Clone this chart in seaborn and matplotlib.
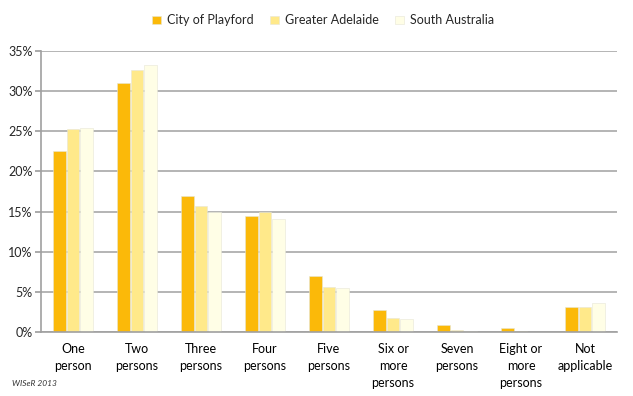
import matplotlib
matplotlib.use("Agg")
import matplotlib.pyplot as plt
import seaborn as sns
import pandas as pd
import numpy as np
from matplotlib.ticker import FuncFormatter, FixedLocator

categories = ["One\nperson", "Two\npersons", "Three\npersons", "Four\npersons", "Five\npersons",
              "Six or\nmore\npersons", "Seven\npersons", "Eight or\nmore\npersons", "Not\napplicable"]
series = ["City of Playford", "Greater Adelaide", "South Australia"]
playford = [22.5, 31.0, 16.9, 14.4, 7.0, 2.8, 0.85, 0.5, 3.1]
greater_adelaide = [25.3, 32.6, 15.7, 14.9, 5.6, 1.7, 0.3, 0.1, 3.1]
south_australia = [25.4, 33.2, 14.9, 14.1, 5.5, 1.6, 0.15, 0.05, 3.6]
colors = ["#FBB909", "#FFE98A", "#FFFEE6"]

rows = []
for s, vals in zip(series, [playford, greater_adelaide, south_australia]):
    for c, v in zip(categories, vals):
        rows.append({"cat": c, "series": s, "val": v})
df = pd.DataFrame(rows)

sns.set_theme(style="white")
plt.rcParams["font.family"] = ["Lato", "DejaVu Sans"]

fig = plt.figure(figsize=(6.33, 3.96), dpi=100)
ax = fig.add_axes([41/633, 1-332/396, (617-41)/633, (332-51)/396])

ax.set_axisbelow(True)
ax.yaxis.grid(True, color="#a8a8a8", linewidth=1.2)
sns.barplot(data=df, x="cat", y="val", hue="series", palette=colors, saturation=1, width=0.64, gap=0.06,
            edgecolor="#e6e6d6", linewidth=0.4, ax=ax, legend=True)

ax.set_ylim(0, 35)
ax.set_xlim(-0.5, len(categories)-0.5)
ax.set_yticks(np.arange(0, 36, 5))
ax.yaxis.set_major_formatter(FuncFormatter(lambda v, p: f"{int(v)}%"))
ax.set_xlabel("")
ax.set_ylabel("")
ax.tick_params(axis="x", which="major", length=0, labelsize=9, pad=8, colors="#000000")
ax.tick_params(axis="y", which="major", length=4, labelsize=9, color="#a0a0a0", direction="out", pad=2)
ax.xaxis.set_minor_locator(FixedLocator(np.arange(-0.5, len(categories), 1.0)))
ax.tick_params(axis="x", which="minor", length=4, color="#a0a0a0", direction="out")
ax.tick_params(left=True)
for lab in ax.get_xticklabels():
    lab.set_verticalalignment("top")
    lab.set_linespacing(1.5)
for side in ["top", "right"]:
    ax.spines[side].set_visible(False)
for side in ["left", "bottom"]:
    ax.spines[side].set_color("#a0a0a0")
    ax.spines[side].set_linewidth(1.2)

leg = ax.legend(loc="upper center", bbox_to_anchor=(0.49, 1.17), ncol=3, frameon=False,
                fontsize=9, handlelength=0.7, handleheight=0.7, columnspacing=1.3, handletextpad=0.5)

fig.text(12/633, 1-384/396, "WISeR 2013", fontsize=6, style="italic", color="#333333", va="center")

fig.savefig("out.png", dpi=100)
